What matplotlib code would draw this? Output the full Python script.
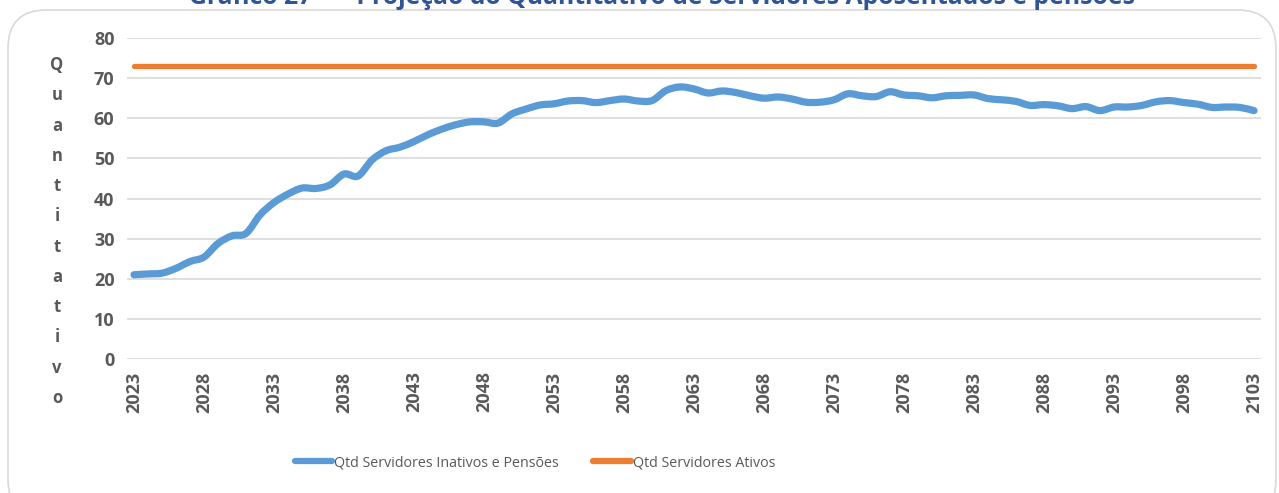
import matplotlib.pyplot as plt
from matplotlib.patches import FancyBboxPatch, PathPatch
from matplotlib.path import Path
from matplotlib.lines import Line2D
import numpy as np

years = list(range(2023, 2104))
inativos = [
    21.0, 21.2, 21.4, 22.6, 24.3, 25.4, 28.8, 30.7, 31.3, 35.9,
    39.0, 41.1, 42.6, 42.5, 43.4, 46.1, 45.6, 49.6, 51.9, 52.8,
    54.2, 55.9, 57.3, 58.4, 59.1, 59.1, 58.8, 61.1, 62.3, 63.3,
    63.6, 64.3, 64.4, 63.9, 64.4, 64.8, 64.3, 64.4, 66.9, 67.8,
    67.3, 66.3, 66.8, 66.4, 65.6, 65.0, 65.3, 64.8, 64.0, 64.0,
    64.6, 66.1, 65.6, 65.4, 66.6, 65.8, 65.6, 65.1, 65.6, 65.7,
    65.8, 64.9, 64.6, 64.2, 63.2, 63.4, 63.1, 62.4, 62.9, 61.9,
    62.8, 62.8, 63.2, 64.1, 64.4, 63.9, 63.5, 62.7, 62.8, 62.7,
    61.9,
]
ativos = [73] * len(years)

labels = ["Qtd Servidores Inativos e Pensões", "Qtd Servidores Ativos"]
colors = ["#5B9BD5", "#ED7D31"]
gray = "#595959"


def smooth_path(xs, ys, t=1 / 6):
    # Bezier path through the points (like Excel's smoothed line)
    xs = np.asarray(xs, float)
    ys = np.asarray(ys, float)
    n = len(xs)
    verts = [(xs[0], ys[0])]
    codes = [Path.MOVETO]
    for i in range(n - 1):
        p0 = i - 1 if i > 0 else i
        p3 = i + 2 if i + 2 < n else i + 1
        c1 = (xs[i] + (xs[i + 1] - xs[p0]) * t, ys[i] + (ys[i + 1] - ys[p0]) * t)
        c2 = (xs[i + 1] - (xs[p3] - xs[i]) * t, ys[i + 1] - (ys[p3] - ys[i]) * t)
        verts += [c1, c2, (xs[i + 1], ys[i + 1])]
        codes += [Path.CURVE4] * 3
    return Path(verts, codes)


fig = plt.figure(figsize=(12.79, 4.93), dpi=100)

# chart frame (behind the axes)
frame = FancyBboxPatch((8 / 1279, -0.05), 1268 / 1279, 1.05 - 10 / 493,
                       boxstyle="round,pad=0,rounding_size=0.03",
                       transform=fig.transFigure, fc="white", ec="#d9d9d9", lw=1.2,
                       mutation_aspect=1279 / 493, zorder=-5)
fig.patches.append(frame)

fig.text(662 / 1279, 1 - 4 / 493,
         "Gráfico 27 –    Projeção do Quantitativo de Servidores Aposentados e pensões",
         ha="center", va="baseline", fontsize=17.8, fontweight="bold",
         color="#2F5597", family="Open Sans")

ax = fig.add_axes([127 / 1279, 1 - 359 / 493, 1134 / 1279, 321 / 493])
ax.patch.set_alpha(0)
x = np.arange(len(years))
ax.add_patch(PathPatch(smooth_path(x, inativos), fc="none", ec=colors[0], lw=5.2,
                       capstyle="round", joinstyle="round"))
ax.plot(x, ativos, color=colors[1], lw=3.8, solid_capstyle="round")

ax.set_xlim(-0.5, len(years) - 0.5)
ax.set_ylim(0, 80)
ax.set_yticks(range(0, 81, 10))
ax.set_xticks(x[::5])
ax.set_xticklabels([str(y) for y in years[::5]], rotation=90)
ax.grid(axis="y", color="#d9d9d9", lw=1.2)
ax.set_axisbelow(True)
for s in ax.spines.values():
    s.set_visible(False)
ax.tick_params(length=0, colors=gray, labelsize=13, pad=9)
for t in ax.get_xticklabels() + ax.get_yticklabels():
    t.set_fontweight("bold")
    t.set_family("Open Sans")

# vertical stacked axis title
word = "Quantitativo"
ys = np.linspace(65, 398, len(word))
for ch, yy in zip(word, ys):
    fig.text(57 / 1279, 1 - yy / 493, ch, ha="center", va="center",
             fontsize=12, fontweight="bold", color=gray, family="Open Sans")

handles = [Line2D([], [], color=c, lw=4.5, solid_capstyle="round") for c in colors]
leg = fig.legend(handles, labels, loc="center", bbox_to_anchor=(535 / 1279, 1 - 463 / 493),
                 ncol=2, frameon=False, handlelength=2.6, handletextpad=0.15,
                 columnspacing=2.4, prop={"family": "Open Sans", "size": 10.3})
for t in leg.get_texts():
    t.set_color(gray)

fig.savefig("out.png", dpi=100)
